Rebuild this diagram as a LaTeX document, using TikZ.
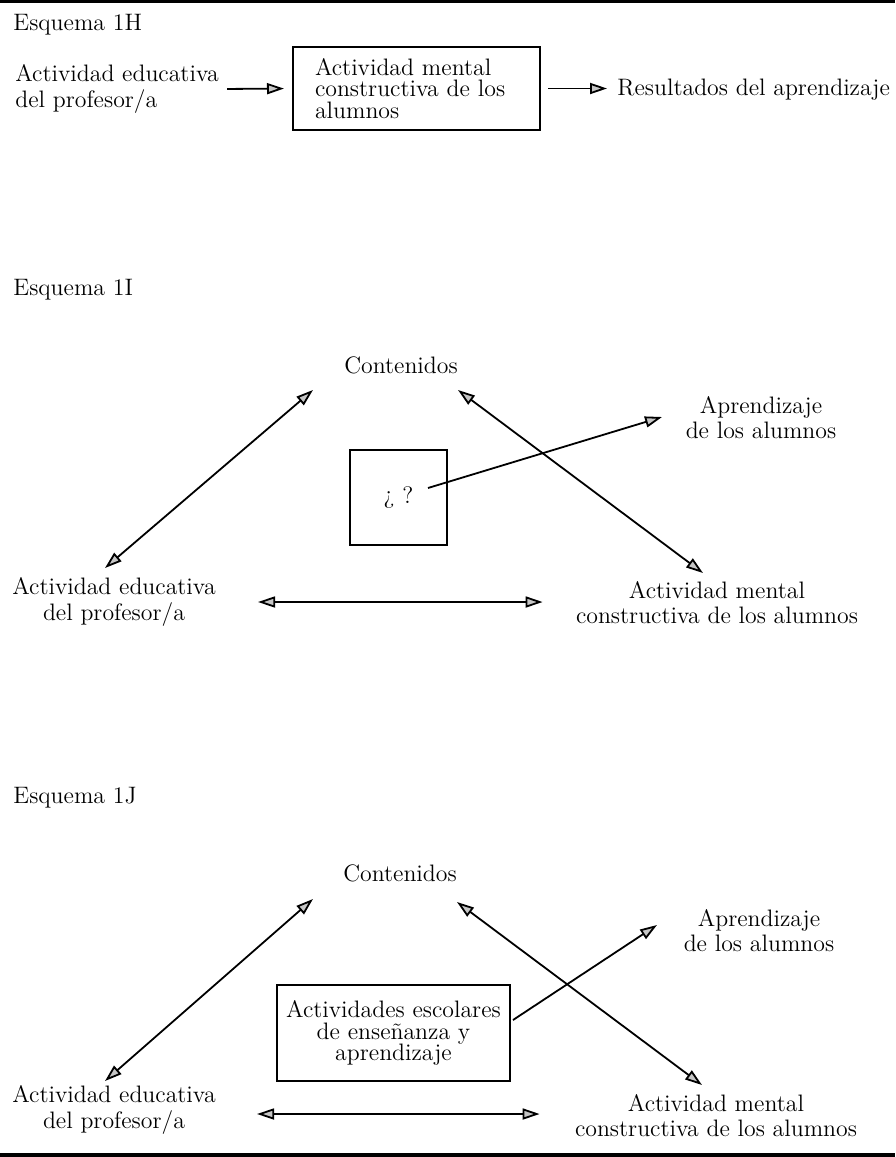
\documentclass[tikz,border=0pt]{standalone}
\usetikzlibrary{arrows.meta,positioning}
\newcommand{\letra}{\fontsize{11.9}{12.6}\selectfont}
\newcommand{\letracaja}{\fontsize{11.9}{10.9}\selectfont}
\tikzset{
  etiq/.style={align=center,inner sep=1pt,font=\letra},
  titulo/.style={anchor=west,inner sep=0pt,font=\letra},
  caja/.style={draw=black,line width=1pt,inner sep=0pt,font=\letracaja},
  punta/.tip={Triangle[length=8.5pt,width=5.5pt,fill=gray!45]},
  flecha/.style={line width=0.9pt,-punta},
  dflecha/.style={line width=0.9pt,punta-punta}
}
\begin{document}
\begin{tikzpicture}[x=0.5pt,y=-0.5pt]
  \useasboundingbox (0,0) rectangle (895,1157);
  \draw[line width=1.5pt] (0,1.5) -- (895,1.5);
  \draw[line width=2pt] (0,1155) -- (895,1155);

  \node[titulo] (t1H) at (13,25) {Esquema 1H};
  \node[etiq,align=left,anchor=west] (prof1) at (13,89) {Actividad educativa\\del profesor/a};
  \node[caja,text width=101.5pt,inner xsep=11pt,minimum height=41.5pt,align=left] (mente1) at (416.5,88.5) {Actividad mental\\constructiva de los\\alumnos};
  \node[titulo] (res1) at (617,90) {Resultados del aprendizaje};
  \draw[flecha,shorten <=3pt,shorten >=4pt] (prof1.east) -- (mente1.west);
  \draw[flecha,shorten <=3.5pt,shorten >=5pt] (mente1.east) -- (mente1.east -| res1.west);

  \node[titulo] (t1I) at (13,290) {Esquema 1I};
  \node[etiq] (cont2) at (401,365) {Contenidos};
  \node[etiq] (apr2) at (761,418) {Aprendizaje\\de los alumnos};
  \node[etiq] (prof2) at (114,602) {Actividad educativa\\del profesor/a};
  \node[etiq] (ment2) at (717,603) {Actividad mental\\constructiva de los alumnos};
  \node[caja,minimum width=48.5pt,minimum height=47.5pt] (duda2) at (398.5,497.5) {¿ ?};
  \draw[dflecha] ([shift={(-9,-34)}]prof2.center) -- ([shift={(-88,25)}]cont2.center);
  \draw[dflecha] ([shift={(57,25)}]cont2.center) -- ([shift={(-14,-30)}]ment2.center);
  \draw[flecha] ([shift={(29.5,-9.5)}]duda2.center) -- ([shift={(-99,-1)}]apr2.center);
  \draw[dflecha,shorten <=20pt,shorten >=15.5pt] (prof2.east) -- (prof2.east -| ment2.west);

  \node[titulo] (t1J) at (13,798) {Esquema 1J};
  \node[etiq] (cont3) at (400,873) {Contenidos};
  \node[etiq] (apr3) at (759,931) {Aprendizaje\\de los alumnos};
  \node[etiq] (prof3) at (114,1110) {Actividad educativa\\del profesor/a};
  \node[etiq] (ment3) at (716,1116) {Actividad mental\\constructiva de los alumnos};
  \node[caja,minimum width=116.5pt,minimum height=48pt,align=center] (act3) at (393.5,1033) {Actividades escolares\\de enseñanza y\\aprendizaje};
  \draw[dflecha] ([shift={(-9,-29)}]prof3.center) -- ([shift={(-87,26)}]cont3.center);
  \draw[dflecha] ([shift={(57,29)}]cont3.center) -- ([shift={(-14,-31)}]ment3.center);
  \draw[flecha] ([shift={(2,-13)}]act3.east) -- ([shift={(-102,-6)}]apr3.center);
  \draw[dflecha,shorten <=19.5pt,shorten >=16.5pt] ([yshift=-2pt]prof3.east) -- ([yshift=-2pt]prof3.east -| ment3.west);
\end{tikzpicture}
\end{document}
